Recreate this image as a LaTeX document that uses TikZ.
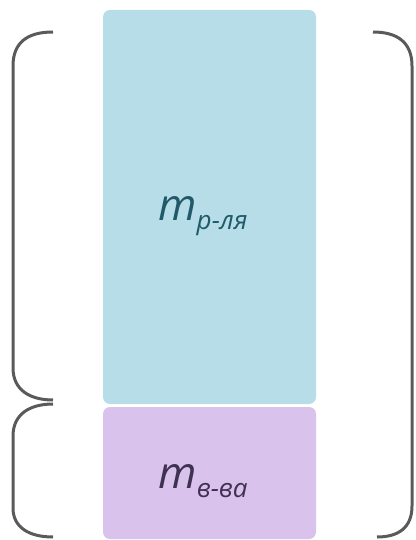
\documentclass[tikz,border=0pt]{standalone}
\usepackage{fontspec}
\setmainfont{Open Sans}
\definecolor{boxblue}{HTML}{B7DEE8}
\definecolor{boxpurple}{HTML}{D9C2EB}
\definecolor{txtblue}{HTML}{215968}
\definecolor{txtpurple}{HTML}{3F3151}
\definecolor{brk}{HTML}{5A5A5A}
\tikzset{
  box/.style={rounded corners=7pt},
  brace/.style={draw=brk, line width=3pt, line cap=butt},
  lbl/.style={font=\itshape, inner sep=0pt}
}
\begin{document}
\begin{tikzpicture}[x=1pt,y=-1pt]
\useasboundingbox (0,0) rectangle (415,540);
\fill[boxblue,box] (103,10) rectangle (316,404);
\fill[boxpurple,box] (103,407) rectangle (316,539);
\node[lbl, text=txtblue] (top) at (203,216) {\fontsize{44}{44}\selectfont m\raisebox{-9pt}{\fontsize{26}{26}\selectfont р-ля}};
\node[lbl, text=txtpurple] (bot) at (203,481) {\fontsize{44}{44}\selectfont m\raisebox{-9pt}{\fontsize{26}{26}\selectfont в-ва}};
% left upper bracket
\draw[brace] (53,32) .. controls (28,32) and (13,42) .. (13,66) -- (13,368) .. controls (13,390) and (30,400) .. (53,400);
% left lower bracket
\draw[brace] (53,404) .. controls (30,404) and (13,414) .. (13,436) -- (13,508) .. controls (13,528) and (30,537) .. (53,537);
% right bracket
\draw[brace] (373,32) .. controls (397,32) and (412,42) .. (412,66) -- (412,506) .. controls (412,528) and (398,537) .. (377,537);
\end{tikzpicture}
\end{document}
